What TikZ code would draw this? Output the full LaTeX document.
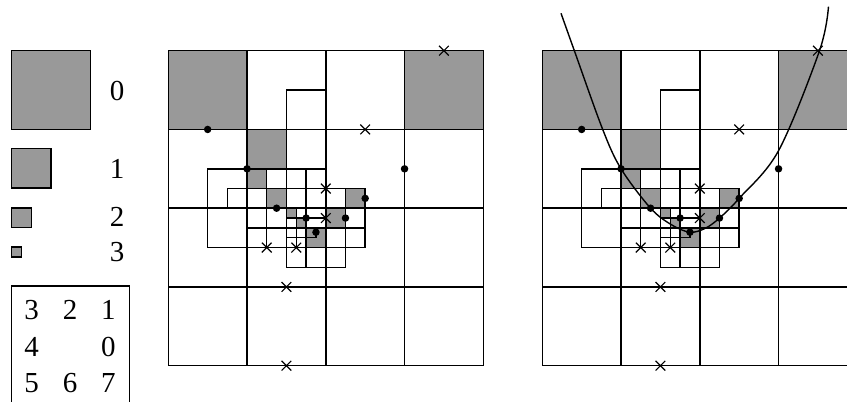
\documentclass[tikz,border=0pt]{standalone}
\usepackage{fontspec}
\setmainfont{Liberation Serif}
\usetikzlibrary{shapes.misc}
\definecolor{cellgray}{RGB}{153,153,153}
\tikzset{
  gridline/.style={line width=1.5pt, line cap=rect},
  dotmark/.style={circle, fill=black, draw=none, inner sep=0pt, minimum size=7.5pt},
  crossmark/.style={cross out, draw=black, line width=1.2pt, inner sep=0pt, minimum size=8.5pt},
  lbl/.style={font=\fontsize{29}{29}\selectfont, inner sep=0pt, anchor=center},
  legendsq/.style={fill=cellgray, draw=black, line width=1.5pt},
}
\newcommand\quadpanel[1]{%
  % shaded cells
  \fill[cellgray] (0,0) rectangle (1,1);
  \fill[cellgray] (3,0) rectangle (4,1);
  \fill[cellgray] (1,1) rectangle (1.5,1.5);
  \fill[cellgray] (1,1.5) rectangle (1.25,1.75);
  \fill[cellgray] (1.25,1.75) rectangle (1.5,2);
  \fill[cellgray] (2.25,1.75) rectangle (2.5,2);
  \fill[cellgray] (2,2) rectangle (2.25,2.25);
  \fill[cellgray] (1.75,2.25) rectangle (2,2.5);
  \fill[cellgray] (1.5,2) rectangle (1.625,2.125);
  \fill[cellgray] (1.625,2.125) rectangle (1.75,2.25);
  % level 0
  \foreach \i in {0,...,4} {
    \draw[gridline] (\i,0) -- (\i,4);
    \draw[gridline] (0,\i) -- (4,\i);
  }
  % level 1
  \draw[gridline] (1.5,2.75) -- (1.5,0.5) -- (2,0.5);
  \draw[gridline] (0.5,1.5) -- (2,1.5);
  % level 2
  \draw[gridline] (0.5,1.5) -- (0.5,2.5) -- (2.5,2.5) -- (2.5,1.75) -- (0.75,1.75) -- (0.75,2);
  \draw[gridline] (1,2.25) -- (2.5,2.25);
  \draw[gridline] (1.25,1.5) -- (1.25,2.5);
  \draw[gridline] (1.75,1.5) -- (1.75,2.75);
  \draw[gridline] (2.25,1.75) -- (2.25,2.75);
  \draw[gridline] (1.5,2.75) -- (2.25,2.75);
  % level 3
  \draw[gridline] (1.5,2.125) -- (2,2.125);
  \draw[gridline] (1.625,2) -- (1.625,2.5);
  \draw[gridline] (1.5,2.375) -- (1.875,2.375) -- (1.875,2.25);
}
\newcommand\quadmarks[1]{%
  \node[dotmark] (#1d1) at (0.5,1) {};
  \node[dotmark] (#1d2) at (1,1.5) {};
  \node[dotmark] (#1d3) at (3,1.5) {};
  \node[dotmark] (#1d4) at (2.5,1.875) {};
  \node[dotmark] (#1d5) at (1.375,2) {};
  \node[dotmark] (#1d6) at (1.75,2.125) {};
  \node[dotmark] (#1d7) at (2.25,2.125) {};
  \node[dotmark] (#1d8) at (1.875,2.305) {};
  \node[crossmark] (#1x1) at (3.5,0) {};
  \node[crossmark] (#1x2) at (2.5,1) {};
  \node[crossmark] (#1x3) at (2,1.75) {};
  \node[crossmark] (#1x4) at (2,2.125) {};
  \node[crossmark] (#1x5) at (1.25,2.5) {};
  \node[crossmark] (#1x6) at (1.625,2.5) {};
  \node[crossmark] (#1x7) at (1.5,3) {};
  \node[crossmark] (#1x8) at (1.5,4) {};
}
\begin{document}
\begin{tikzpicture}[x=1pt, y=-1pt]
\useasboundingbox (0,0) rectangle (847,402);
\clip (0,0) rectangle (847,402);
% legend
\draw[legendsq] (11.7,50.7) rectangle ++(78.75,78.75);
\draw[legendsq] (11.7,148.5) rectangle ++(39.4,39.4);
\draw[legendsq] (11.7,208) rectangle ++(19.7,19.7);
\draw[legendsq] (11.7,247.2) rectangle ++(9.85,9.85);
\node[lbl] (l0) at (117,91) {0};
\node[lbl] (l1) at (117,169) {1};
\node[lbl] (l2) at (117,217) {2};
\node[lbl] (l3) at (117,252) {3};
\draw[line width=1.5pt] (11.7,420) -- (11.7,286) -- (129.3,286) -- (129.3,420);
\node[lbl] (n3) at (31.7,310) {3};
\node[lbl] (n2) at (70,310) {2};
\node[lbl] (n1) at (108.3,310) {1};
\node[lbl] (n4) at (31.7,347) {4};
\node[lbl] (n0) at (108.3,347) {0};
\node[lbl] (n5) at (31.7,383) {5};
\node[lbl] (n6) at (70,383) {6};
\node[lbl] (n7) at (108.3,383) {7};
% middle panel
\begin{scope}[shift={(168.3pt,-50.7pt)}, x=78.75pt, y=-78.75pt]
  \quadpanel{m}
  \quadmarks{m}
\end{scope}
% right panel
\begin{scope}[shift={(542.3pt,-50.7pt)}, x=78.75pt, y=-78.75pt]
  \quadpanel{r}
  \draw[line width=1.4pt] plot[smooth, tension=0.55] coordinates {(0.2376,-0.475) (0.407,0) (0.767,1) (1,1.5) (1.375,2) (1.64,2.21) (1.875,2.305) (2.07,2.255) (2.25,2.125) (2.5,1.875) (3,1.27) (3.52,0) (3.634,-0.559)};
  \quadmarks{r}
\end{scope}
\end{tikzpicture}
\end{document}
